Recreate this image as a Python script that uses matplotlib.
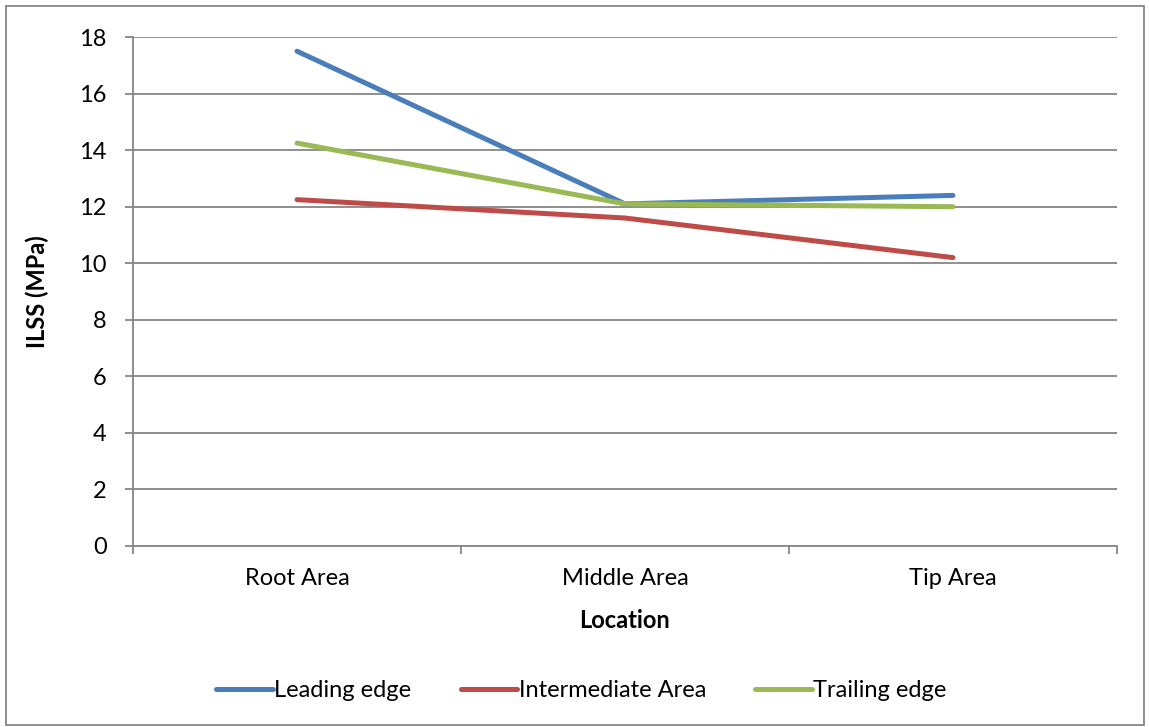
import matplotlib.pyplot as plt
from matplotlib.patches import Rectangle

locations = ["Root Area", "Middle Area", "Tip Area"]
leading_edge = [17.5, 12.1, 12.4]
intermediate_area = [12.25, 11.6, 10.2]
trailing_edge = [14.25, 12.1, 12.0]

plt.rcParams["font.family"] = ["Lato", "DejaVu Sans"]
fs = 17

fig = plt.figure(figsize=(11.49, 7.27), dpi=100)
ax = fig.add_axes([0.1158, 0.249, 0.8563, 0.700])

grid_col = "#868686"
x = range(len(locations))
ax.plot(x, leading_edge, color="#4A7EBB", lw=3.6, solid_capstyle="round", label="Leading edge")
ax.plot(x, intermediate_area, color="#BE4B48", lw=3.6, solid_capstyle="round", label="Intermediate Area")
ax.plot(x, trailing_edge, color="#98B954", lw=3.6, solid_capstyle="round", label="Trailing edge")

ax.set_xlim(-0.5, 2.5)
ax.set_ylim(0, 18)
ax.set_yticks(range(0, 19, 2))
ax.set_xticks([-0.5, 0.5, 1.5, 2.5])
ax.set_xticklabels([])
ax.set_xticks(list(x), minor=True)
ax.set_xticklabels(locations, minor=True)
ax.tick_params(axis="x", which="minor", length=0, pad=16, labelsize=fs)
ax.tick_params(axis="x", which="major", length=6, color=grid_col, width=1.3)
ax.tick_params(axis="y", length=6, color=grid_col, width=1.3, labelsize=fs, pad=13)
ax.grid(axis="y", color=grid_col, lw=1.3)
ax.set_axisbelow(True)
for s in ["top", "right"]:
    ax.spines[s].set_visible(False)
for s in ["left", "bottom"]:
    ax.spines[s].set_color(grid_col)
    ax.spines[s].set_linewidth(1.3)

ax.set_xlabel("Location", fontsize=fs, fontweight="bold", labelpad=14)
ax.set_ylabel("ILSS (MPa)", fontsize=fs, fontweight="bold", labelpad=22)

ax.legend(loc="center", bbox_to_anchor=(0.506, 0.05), bbox_transform=fig.transFigure,
          ncol=3, frameon=False, fontsize=fs, handlelength=2.4, handletextpad=0.05,
          columnspacing=2.1)

fig.patches.append(Rectangle((0.005, 0.003), 0.991, 0.989, transform=fig.transFigure,
                             fill=False, edgecolor=grid_col, lw=1.3))

fig.savefig("out.png", dpi=100)
